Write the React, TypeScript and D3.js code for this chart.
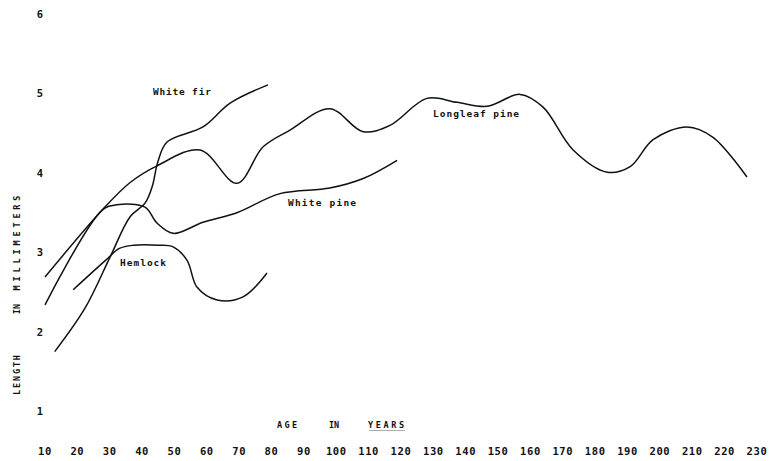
import React from "react";
import * as d3 from "d3";

const xTicks = [10, 20, 30, 40, 50, 60, 70, 80, 90, 100, 110, 120, 130, 140, 150, 160, 170, 180, 190, 200, 210, 220, 230];
const yTicks = [1, 2, 3, 4, 5, 6];

const whiteFirAge = [13, 22.4, 30.1, 36.3, 40.9, 43.2, 44.8, 47.7, 58.8, 67.2, 78.9];
const whiteFirLen = [1.76, 2.31, 2.95, 3.46, 3.63, 3.85, 4.14, 4.4, 4.59, 4.89, 5.12];

const hemlockAge = [18.7, 28.7, 33, 37.4, 45, 49.6, 53.9, 57, 63.2, 71.2, 78.6];
const hemlockLen = [2.54, 2.91, 3.06, 3.1, 3.1, 3.08, 2.91, 2.57, 2.41, 2.45, 2.75];

const whitePineAge = [10, 27.6, 32.2, 40.9, 44.6, 49.6, 58.8, 69.3, 82.6, 98, 108.3, 118.8];
const whitePineLen = [2.35, 3.54, 3.61, 3.58, 3.38, 3.25, 3.39, 3.51, 3.75, 3.82, 3.94, 4.17];

const longleafAge = [10, 27.6, 36.3, 44.6, 57.9, 69.3, 77.4, 85.7, 98, 108.3, 116.6, 128, 137.3, 146.6, 156.8, 163.9, 173.2, 183.7, 190.8, 197.9, 208.4, 216.4, 226.9];
const longleafLen = [2.7, 3.54, 3.89, 4.1, 4.3, 3.88, 4.34, 4.55, 4.82, 4.53, 4.61, 4.95, 4.9, 4.85, 5.0, 4.84, 4.3, 4.02, 4.09, 4.43, 4.59, 4.46, 3.96];

const seriesNames = ["White fir", "Hemlock", "White pine", "Longleaf pine"];

export default function App() {
  const W = 769, H = 461;
  const x = d3.scaleLinear().domain([10, 230]).range([45, 757]);
  const y = d3.scaleLinear().domain([1, 6]).range([412, 15]);
  const line = d3
    .line<[number, number]>()
    .x((d) => x(d[0]))
    .y((d) => y(d[1]))
    .curve(d3.curveCatmullRom.alpha(0.5));

  const series = [
    { name: seriesNames[0], pts: whiteFirAge.map((a, i) => [a, whiteFirLen[i]] as [number, number]) },
    { name: seriesNames[1], pts: hemlockAge.map((a, i) => [a, hemlockLen[i]] as [number, number]) },
    { name: seriesNames[2], pts: whitePineAge.map((a, i) => [a, whitePineLen[i]] as [number, number]) },
    { name: seriesNames[3], pts: longleafAge.map((a, i) => [a, longleafLen[i]] as [number, number]) },
  ];

  const labels = [
    { text: seriesNames[0], age: 52.3, len: 5.02, w: 58 },
    { text: seriesNames[1], age: 40.3, len: 2.87, w: 46 },
    { text: seriesNames[2], age: 95.6, len: 3.63, w: 68 },
    { text: seriesNames[3], age: 143.2, len: 4.75, w: 86 },
  ];

  const font = "'DejaVu Sans Mono', 'Liberation Mono', monospace";

  return (
    <svg
      width={W}
      height={H}
      style={{ position: "absolute", left: 0, top: 0, background: "#fff" }}
      fontFamily={font}
      fontWeight="bold"
    >
      <rect x={0} y={0} width={W} height={H} fill="#fff" />
      {series.map((s) => (
        <path key={s.name} d={line(s.pts) || ""} fill="none" stroke="#111" strokeWidth={1.5} />
      ))}
      {labels.map((l) => (
        <text key={l.text} x={x(l.age)} y={y(l.len)} textAnchor="middle" dominantBaseline="middle" fontSize={9.5} fill="#111" textLength={l.w} lengthAdjust="spacing">
          {l.text}
        </text>
      ))}
      {yTicks.map((t) => (
        <text key={t} x={40} y={y(t)} textAnchor="middle" dominantBaseline="middle" fontSize={10.5} fill="#111">
          {t}
        </text>
      ))}
      {xTicks.map((t) => (
        <text key={t} x={x(t)} y={452} textAnchor="middle" dominantBaseline="middle" fontSize={10.5} fill="#111" letterSpacing={0.6}>
          {t}
        </text>
      ))}
      <text x={287} y={425} textAnchor="middle" dominantBaseline="middle" fontSize={8.5} fill="#111" textLength={20} lengthAdjust="spacing">AGE</text>
      <text x={334} y={425} textAnchor="middle" dominantBaseline="middle" fontSize={8.5} fill="#111">IN</text>
      <text x={386} y={425} textAnchor="middle" dominantBaseline="middle" fontSize={8.5} fill="#111" textLength={36} lengthAdjust="spacing">YEARS</text>
      <line x1={369} x2={405} y1={430.5} y2={430.5} stroke="#777" strokeWidth={0.6} />
      <g transform="translate(17,0)">
        <text transform="translate(0,375) rotate(-90)" textAnchor="middle" dominantBaseline="middle" fontSize={8.5} fill="#111" textLength={40} lengthAdjust="spacing">LENGTH</text>
        <text transform="translate(0,309) rotate(-90)" textAnchor="middle" dominantBaseline="middle" fontSize={8.5} fill="#111">IN</text>
        <text transform="translate(0,243) rotate(-90)" textAnchor="middle" dominantBaseline="middle" fontSize={8.5} fill="#111" textLength={95} lengthAdjust="spacing">MILLIMETERS</text>
      </g>
    </svg>
  );
}
